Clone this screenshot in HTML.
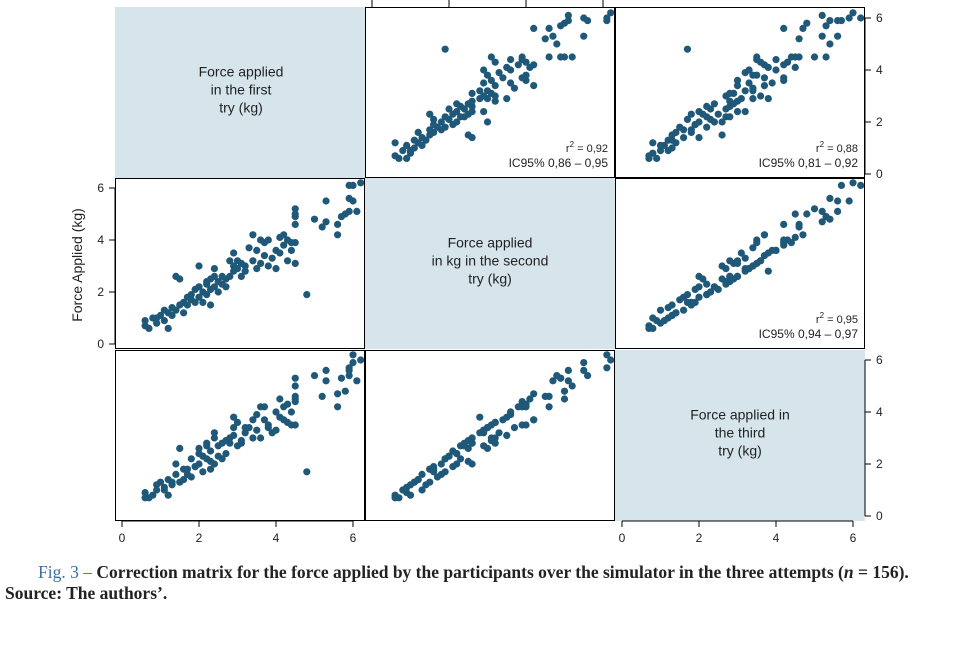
<!DOCTYPE html>
<html><head><meta charset="utf-8">
<style>
body{margin:0;background:#fff;width:955px;height:654px;overflow:hidden;position:relative;font-family:"Liberation Sans",sans-serif}
#cap{position:absolute;left:5px;top:562px;width:950px;font-family:"Liberation Serif",serif;font-size:17.5px;font-weight:bold;color:#222;line-height:21px;white-space:nowrap}
#cap .fig{color:#3a6ea5;font-weight:normal;margin-left:33px}
</style></head><body>
<svg id="chart" width="955" height="560" style="position:absolute;left:0;top:0" xmlns="http://www.w3.org/2000/svg"></svg>
<div id="cap"><span class="fig">Fig. 3 –</span> Correction matrix for the force applied by the participants over the simulator in the three attempts (<i>n</i> = 156).<br>Source: The authors’.</div>
<script>
const try1=[0.6,0.6,0.7,0.8,0.9,0.9,1.0,1.1,1.2,1.2,1.3,1.3,1.4,1.4,1.5,1.5,1.6,1.6,1.7,1.7,1.8,1.8,1.9,1.9,2.0,2.0,2.0,2.1,2.1,2.2,2.2,2.3,2.3,2.3,2.4,2.4,2.4,2.5,2.5,2.6,2.6,2.7,2.7,2.8,2.8,2.9,2.9,3.0,3.0,3.1,3.1,3.2,3.2,3.4,3.4,3.5,3.5,3.6,3.6,3.7,3.7,3.8,3.8,3.9,4.0,4.0,4.1,4.1,4.2,4.2,4.3,4.3,4.4,4.4,4.5,4.5,4.5,4.5,4.5,4.5,4.8,5.3,5.3,5.6,5.6,5.7,5.8,5.9,6.0,6.1,5.9,6.0,5.9,6.2,5.2,5.0,3.3,2.9,1.1,2.2];
const try2=[0.7,0.9,0.6,1.0,1.0,0.8,1.1,0.9,0.6,1.2,1.4,1.1,1.3,2.6,2.5,1.5,1.6,1.2,1.8,1.5,1.9,1.7,2.1,1.6,2.2,1.8,3.0,2.0,1.6,2.3,1.9,2.5,1.5,2.1,2.6,2.2,2.9,2.4,2.0,2.3,2.6,2.5,2.2,3.2,2.6,3.5,3.0,2.9,3.2,2.6,3.1,2.8,3.0,4.2,3.2,3.6,2.9,4.0,3.1,3.9,3.4,4.0,3.0,3.3,3.6,2.9,3.5,4.1,4.2,3.8,3.2,4.0,3.6,3.9,3.1,4.6,4.9,5.2,5.0,3.9,1.9,5.5,4.7,4.6,4.2,4.9,5.0,5.1,5.5,5.1,6.1,6.1,5.6,6.2,4.5,4.8,3.7,2.8,1.3,2.4];
const try3=[0.7,0.9,0.7,0.8,1.2,1.0,1.3,1.1,0.8,1.4,1.2,1.3,1.6,2.0,2.6,1.3,1.8,1.4,1.6,1.8,2.2,1.5,1.9,1.9,2.4,2.0,2.6,2.3,1.7,2.7,2.2,2.1,1.8,2.5,3.0,2.0,3.2,2.7,2.3,2.2,2.8,2.9,2.4,2.8,3.0,3.1,3.4,2.7,3.6,2.8,2.9,3.2,3.4,3.7,3.0,3.9,3.3,4.2,3.0,4.2,3.7,3.5,3.4,3.2,4.0,3.3,3.8,4.5,3.7,4.2,3.6,4.3,4.0,3.5,3.5,4.6,5.3,5.0,4.5,4.4,1.7,5.6,5.2,4.2,4.7,5.3,4.8,5.6,5.9,5.2,5.7,6.2,5.4,6.0,4.6,5.4,3.4,3.8,1.0,2.8];
const diagLabels=[["Force applied","in the first","try (kg)"],["Force applied","in kg in the second","try (kg)"],["Force applied in","the third","try (kg)"]];
const rValues=["0,92","0,88","0,95"];
const ciValues=["IC95% 0,86 – 0,95","IC95% 0,81 – 0,92","IC95% 0,94 – 0,97"];
const ticks=[0,2,4,6];

const NS="http://www.w3.org/2000/svg";
const svg=document.getElementById('chart');
function mk(t,a,p){const e=document.createElementNS(NS,t);for(const k in a)e.setAttribute(k,a[k]);(p||svg).appendChild(e);return e;}
const colL=[115,365,615],rowT=[7,178,350],W=250,H=171;
const colZero=[122,372,622],rowZero=[174,344,516];
const xs=(c,v)=>colZero[c]+v*38.5;
const ys=(r,v)=>rowZero[r]-v*26;
const T=[try1,try2,try3];
for(let r=0;r<3;r++)for(let c=0;c<3;c++){
  const g=mk('g',{});
  if(r===c){
    
    
    mk('rect',{x:colL[c],y:rowT[r],width:W,height:H,fill:'#d5e5eb'},g);
    const cx=colL[c]+W/2-(c===0?-1:0), cy=rowT[r]+H/2-16;
    diagLabels[r].forEach((s,i)=>{const t=mk('text',{x:cx,y:cy+i*18,'text-anchor':'middle','font-size':14,fill:'#222'},g);t.textContent=s;});
  }else{
    
    
    mk('rect',{x:colL[c]+0.5,y:rowT[r]+0.5,width:W-1,height:H-1,fill:'#fff',stroke:'#000','stroke-width':1},g);
    for(let i=0;i<try1.length;i++){
      const d=mk('circle',{cx:xs(c,T[c][i]),cy:ys(r,T[r][i]),r:3.6,fill:'#1f5878'},g);
      
      
    }
    if(c>r){
      const k=r+c-1;
      const rx=colL[c]+W-7;
      const t1=mk('text',{x:rx,y:rowT[r]+H-26,'text-anchor':'end','font-size':11,fill:'#222'},g);
      t1.innerHTML='r<tspan dy="-5" font-size="8">2</tspan><tspan dy="5"> = '+rValues[k]+'</tspan>';
      const t2=mk('text',{x:rx,y:rowT[r]+H-11,'text-anchor':'end','font-size':12,fill:'#222'},g);
      t2.textContent=ciValues[k];
    }
  }
}
function axisY(r,x,side,name){
  const g=mk('g',{});
  mk('line',{x1:x,y1:ys(r,0),x2:x,y2:ys(r,6),stroke:'#000'},g);
  ticks.forEach(v=>{const y=ys(r,v);mk('line',{x1:x,y1:y,x2:x+side*6,y2:y,stroke:'#000'},g);
    const t=mk('text',{x:x+side*11,y:y+4,'text-anchor':side<0?'end':'start','font-size':12,fill:'#222'},g);t.textContent=v;});
}
function axisX(c,y,name){
  const g=mk('g',{});
  mk('line',{x1:xs(c,0),y1:y,x2:xs(c,6),y2:y,stroke:'#000'},g);
  ticks.forEach(v=>{const x=xs(c,v);mk('line',{x1:x,y1:y,x2:x,y2:y+6,stroke:'#000'},g);
    const t=mk('text',{x:x,y:y+21,'text-anchor':'middle','font-size':12,fill:'#222'},g);t.textContent=v;});
}
axisY(1,115,-1,'y-axis-row2');
axisY(0,865,1,'y-axis-row1-right');
axisY(2,865,1,'y-axis-row3-right');
axisX(0,521,'x-axis-col1');
axisX(2,521,'x-axis-col3');
const gt=mk('g',{});
ticks.forEach(v=>mk('line',{x1:xs(1,v),y1:0,x2:xs(1,v),y2:7,stroke:'#000'},gt));
const yt=mk('text',{x:0,y:0,transform:'translate(82,265) rotate(-90)','text-anchor':'middle','font-size':14,fill:'#222'});


yt.textContent='Force Applied (kg)';
</script>
</body></html>
